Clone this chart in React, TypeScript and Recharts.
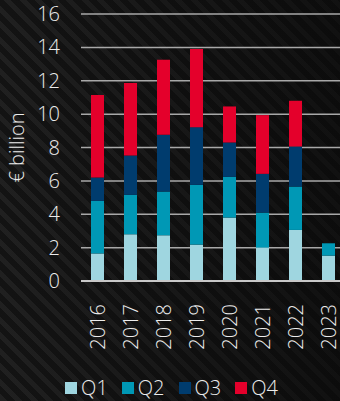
import { BarChart, Bar, XAxis, YAxis, CartesianGrid, Legend } from "recharts";

const years = ["2016", "2017", "2018", "2019", "2020", "2021", "2022", "2023"];
const q1 = [1.65, 2.8, 2.74, 2.18, 3.8, 2.0, 3.06, 1.52];
const q2 = [3.15, 2.36, 2.62, 3.58, 2.44, 2.1, 2.6, 0.74];
const q3 = [1.4, 2.36, 3.4, 3.46, 2.06, 2.32, 2.4, 0];
const q4 = [4.95, 4.34, 4.5, 4.68, 2.16, 3.52, 2.74, 0];
const yTicks = [0, 2, 4, 6, 8, 10, 12, 14, 16];

const series = [
  { key: "Q1", color: "#9fd6e0" },
  { key: "Q2", color: "#0098b5" },
  { key: "Q3", color: "#003c6e" },
  { key: "Q4", color: "#e4002b" },
];

const data = years.map((year, i) => ({
  year,
  Q1: q1[i],
  Q2: q2[i],
  Q3: q3[i],
  Q4: q4[i],
}));

const textColor = "#ececec";
const font = "'Open Sans', Lato, sans-serif";

function YearTick({ x, y, payload }: any) {
  return (
    <text
      x={x}
      y={y + 15}
      transform={`rotate(-90, ${x}, ${y + 15})`}
      textAnchor="end"
      dy="0.36em"
      fill={textColor}
      fontSize={20}
      fontWeight={300}
      fontFamily={font}
    >
      {payload.value}
    </text>
  );
}

function LegendBox() {
  return (
    <div
      style={{
        display: "flex",
        justifyContent: "center",
        paddingLeft: 12,
        marginTop: 12,
        fontFamily: font,
        fontWeight: 300,
        color: textColor,
        fontSize: 20,
        lineHeight: "22px",
      }}
    >
      {series.map((s) => (
        <div key={s.key} style={{ display: "flex", alignItems: "center", marginRight: 14 }}>
          <span style={{ width: 12, height: 12, background: s.color, display: "inline-block", marginRight: 4 }} />
          <span>{s.key}</span>
        </div>
      ))}
    </div>
  );
}

export default function App() {
  return (
    <div
      style={{
        position: "absolute",
        left: 0,
        top: 0,
        width: 340,
        height: 401,
        overflow: "hidden",
        background:
          "linear-gradient(to right, rgba(8,8,8,0.2) 0%, rgba(8,8,8,0.45) 45%, rgba(8,8,8,0.7) 100%), repeating-linear-gradient(45deg, #262626 0px, #262626 5px, #161616 5px, #161616 11px)",
      }}
    >
      <BarChart
        width={340}
        height={401}
        data={data}
        margin={{ top: 14, right: -5, left: 0, bottom: 0 }}
        barSize={13}
      >
        <CartesianGrid vertical={false} stroke="#a8a8a8" strokeWidth={1.5} />
        <XAxis
          dataKey="year"
          tick={<YearTick />}
          tickLine={false}
          axisLine={{ stroke: "#c8c8c8", strokeWidth: 2 }}
          height={84}
          interval={0}
        />
        <YAxis
          domain={[0, 16]}
          ticks={yTicks}
          width={81}
          tickLine={false}
          axisLine={false}
          tickSize={0}
          tickMargin={21}
          tick={{ fill: textColor, fontSize: 20, fontWeight: 300, fontFamily: font }}
          label={{
            value: "€ billion",
            angle: -90,
            position: "insideLeft",
            dx: 12,
            dy: 0,
            style: { fill: textColor, fontSize: 20, fontWeight: 300, fontFamily: font, textAnchor: "middle" },
          }}
        />
        <Legend verticalAlign="bottom" height={36} content={<LegendBox />} />
        {series.map((s) => (
          <Bar key={s.key} dataKey={s.key} stackId="a" fill={s.color} isAnimationActive={false} />
        ))}
      </BarChart>
    </div>
  );
}
